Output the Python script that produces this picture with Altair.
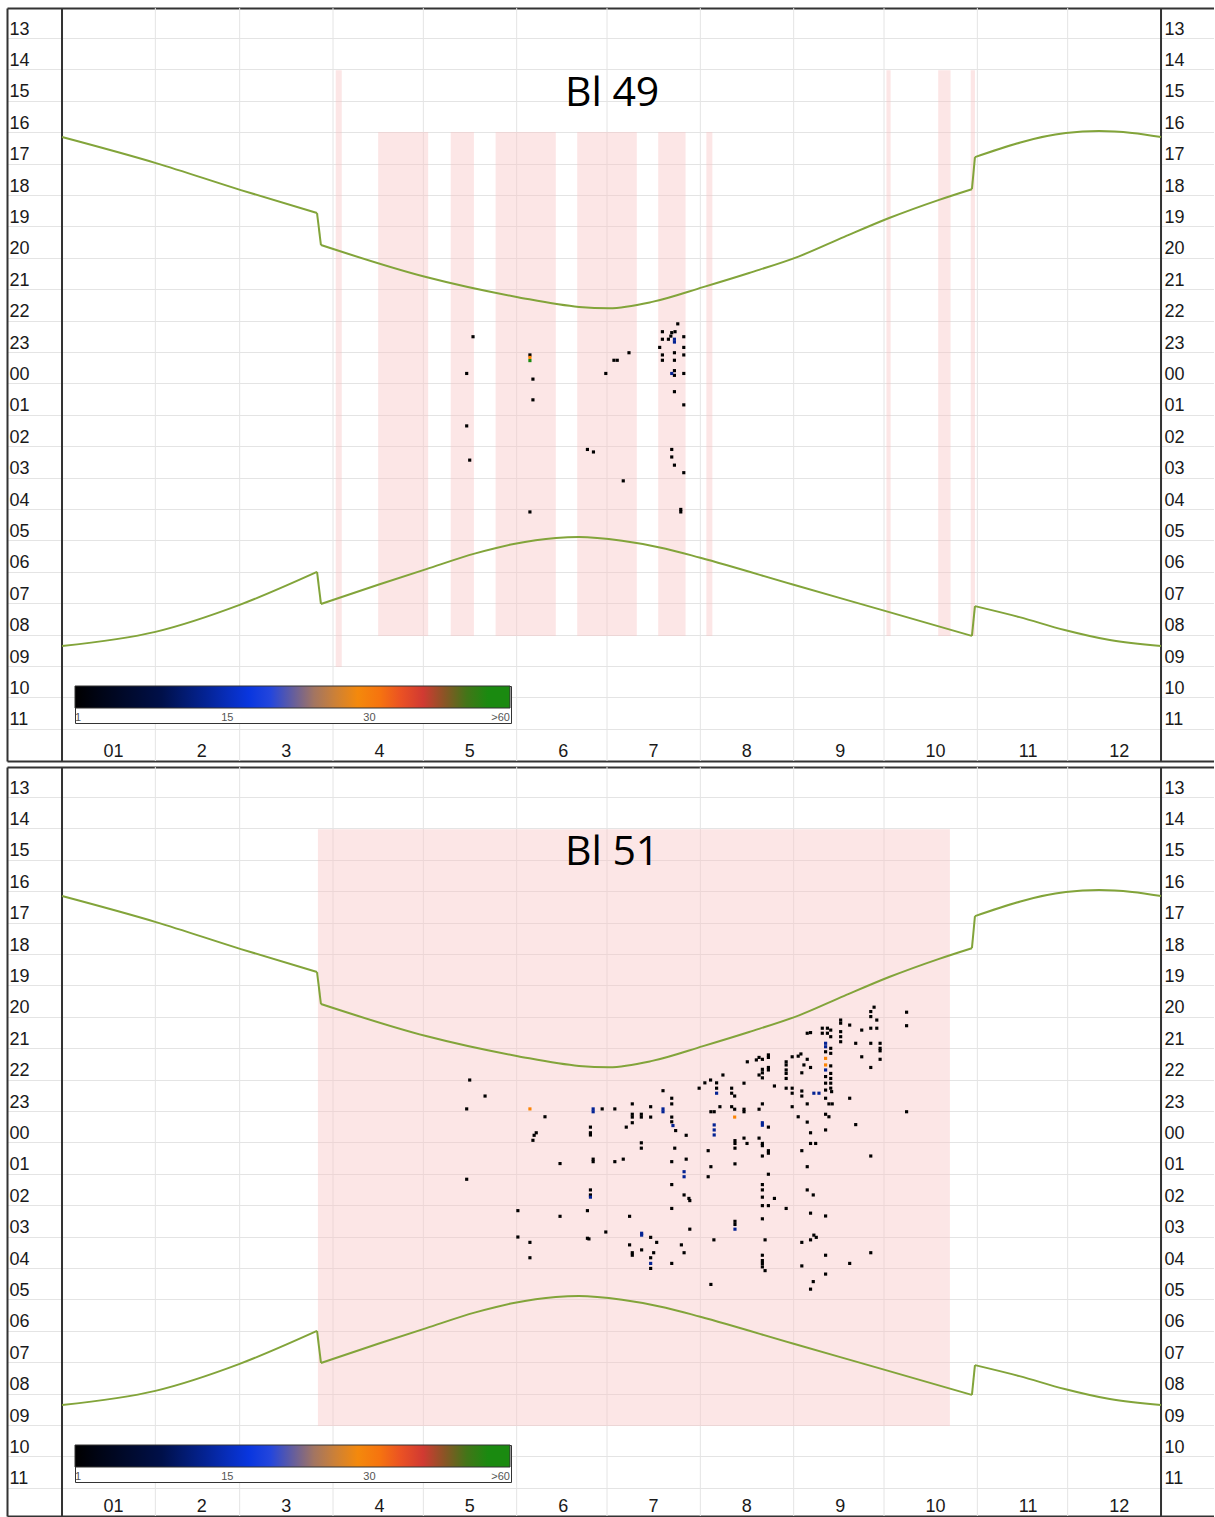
import altair as alt
import pandas as pd

# ---------------- data ----------------
MONTH_LABELS = ['01', '2', '3', '4', '5', '6', '7', '8', '9', '10', '11', '12']
MONTH_STARTS = [0, 31, 59, 90, 120, 151, 181, 212, 243, 273, 304, 334, 365]
HOUR_TICKS = list(range(1, 24))  # hours after noon: 13 ... 11

SUNSET_DAY = [0, 31.2, 59.4, 84.7, 86.0, 120.9, 151.4, 171.7, 181.7, 196.0, 212.9,
              228.2, 244.8, 259.8, 274.7, 291.3, 302.2, 303.2, 333.4, 344.4, 355.4, 365]
SUNSET_HOUR = [16.44, 17.27, 18.13, 18.86, 19.88, 20.90, 21.54, 21.85, 21.89, 21.69, 21.22,
               20.77, 20.24, 19.62, 19.02, 18.44, 18.10, 17.08, 16.31, 16.25, 16.31, 16.44]
SUNRISE_DAY = [0, 31, 59, 84.7, 86.0, 105, 121, 137.3, 150, 164, 171.7, 186, 200.5, 212,
               243, 273.3, 302.2, 303.2, 318, 333, 348, 365]
SUNRISE_HOUR = [8.65, 8.20, 7.34, 6.29, 7.31, 6.70, 6.20, 5.70, 5.40, 5.21, 5.18, 5.30, 5.55, 5.84,
                6.70, 7.53, 8.33, 7.38, 7.73, 8.14, 8.46, 8.65]

# recording periods: (start day, end day, start clock hour, end clock hour)
P1_RECTS = [(90.9, 92.9, 14.31, 9.32), (105.0, 121.6, 16.28, 8.33), (129.1, 136.8, 16.28, 8.33),
            (144.0, 164.0, 16.28, 8.33), (171.1, 190.9, 16.28, 8.33), (198.0, 207.1, 16.28, 8.33),
            (214.0, 216.0, 16.28, 8.33), (273.8, 275.2, 14.31, 8.33), (291.0, 295.1, 14.31, 8.33),
            (301.8, 303.2, 14.31, 8.33)]
P2_RECTS = [(85.0, 294.9, 14.31, 9.32)]

# detections (day of year, clock hour)
P1_BLACK = [(136.5, 22.80), (134.4, 23.97), (134.4, 1.64), (135.4, 2.73), (155.4, 23.38),
            (156.4, 0.15), (156.4, 0.81), (155.4, 4.38), (174.5, 2.39), (176.5, 2.47),
            (180.6, 23.97), (183.3, 23.55), (184.4, 23.55), (188.3, 23.31), (186.4, 3.39),
            (204.5, 22.39), (199.4, 22.64), (202.5, 22.67), (203.6, 22.64), (202.2, 22.78),
            (199.4, 22.88), (201.4, 22.88), (206.5, 22.80), (198.5, 23.14), (206.5, 23.14),
            (199.4, 23.38), (203.4, 23.31), (206.5, 23.38), (199.4, 23.55), (203.4, 23.55),
            (203.4, 0.03), (203.4, 23.88), (206.5, 23.97), (203.4, 0.55), (206.5, 0.97),
            (202.5, 2.39), (202.5, 2.63), (203.4, 2.89), (206.5, 3.13), (205.5, 4.30), (205.5, 4.38)]
P1_BLUE = [(203.4, 22.88), (203.4, 22.97), (202.5, 23.97)]
P1_ORANGE = [(155.4, 23.46)]
P1_GREEN = [(155.4, 23.56)]

P2_BLACK = [(135.4, 22.30), (140.5, 22.81), (134.4, 23.22), (134.4, 1.46), (160.4, 23.47),
            (157.5, 23.98), (156.8, 0.06), (156.4, 0.22), (165.4, 0.96), (151.4, 2.46),
            (151.4, 3.30), (155.4, 3.47), (155.4, 3.96), (165.4, 2.64), (174.5, 2.46),
            (174.5, 3.34), (175.0, 3.36), (180.6, 3.14), (179.4, 23.22), (183.6, 23.22),
            (175.5, 23.80), (175.5, 23.98), (175.5, 0.05), (176.4, 0.82), (176.4, 0.90),
            (175.5, 1.80), (175.5, 1.96), (183.6, 0.90), (186.4, 0.82), (189.4, 23.06),
            (189.4, 23.39), (189.4, 23.48), (192.4, 23.39), (192.4, 23.48), (189.4, 23.66),
            (187.4, 23.80), (195.5, 23.15), (195.5, 23.48), (192.4, 0.30), (192.4, 0.47),
            (199.6, 22.64), (202.5, 22.88), (202.5, 23.06), (202.5, 23.48), (202.5, 23.63),
            (203.8, 23.91), (207.3, 0.06), (203.5, 0.47), (202.5, 0.90), (207.3, 0.82),
            (202.5, 1.63), (206.6, 1.96), (208.2, 2.07), (208.5, 2.14), (202.5, 2.39),
            (208.5, 3.05), (188.5, 2.64), (195.5, 3.31), (197.5, 3.47), (188.5, 3.55),
            (189.4, 3.80), (189.4, 3.88), (192.5, 3.71), (195.5, 3.96), (195.5, 4.30),
            (196.5, 3.80), (202.5, 4.14), (205.7, 3.55), (206.6, 3.80), (211.6, 22.56),
            (213.5, 22.39), (215.4, 22.30), (217.4, 22.39), (219.5, 22.14), (217.4, 22.56),
            (215.5, 23.31), (216.6, 23.31), (218.5, 23.15), (214.6, 0.55), (215.5, 1.06),
            (214.6, 1.38), (216.5, 3.39), (215.5, 4.81), (222.4, 22.56), (222.4, 22.72),
            (223.4, 22.81), (222.4, 23.15), (223.4, 23.23), (226.5, 22.40), (226.5, 23.23),
            (226.5, 23.31), (223.5, 0.23), (223.5, 0.32), (223.5, 0.47), (226.5, 0.15),
            (227.5, 0.32), (223.5, 0.97), (223.5, 2.80), (223.5, 2.90), (227.6, 21.72),
            (230.6, 21.66), (231.5, 21.58), (232.6, 21.64), (234.6, 21.50), (234.6, 21.58),
            (232.6, 21.96), (232.6, 22.07), (234.6, 21.90), (234.6, 21.98), (231.5, 22.14),
            (232.6, 22.23), (236.6, 22.49), (232.6, 23.06), (231.5, 23.23), (234.6, 23.80),
            (231.5, 0.15), (232.6, 0.32), (232.6, 0.39), (232.6, 0.72), (234.6, 0.55),
            (234.6, 0.63), (234.6, 1.30), (232.6, 1.63), (232.6, 1.80), (232.6, 2.03),
            (232.6, 2.30), (234.6, 2.30), (236.6, 2.07), (232.6, 2.72), (233.5, 3.39),
            (232.6, 3.88), (232.6, 4.05), (232.6, 4.14), (232.6, 4.25), (233.5, 4.37),
            (240.5, 2.39), (240.5, 21.72), (240.5, 21.82), (240.5, 21.98), (240.5, 22.09),
            (240.5, 22.25), (242.5, 21.56), (244.5, 21.54), (245.4, 21.47), (245.7, 22.07),
            (242.5, 22.56), (242.5, 22.72), (240.5, 22.56), (245.7, 22.65), (245.7, 22.81),
            (242.5, 23.15), (244.5, 23.47), (247.5, 21.64), (248.6, 21.90), (246.4, 21.82),
            (247.5, 23.06), (247.5, 23.64), (248.6, 23.98), (248.6, 0.32), (250.3, 0.32),
            (245.7, 0.55), (247.5, 1.06), (247.5, 1.80), (249.5, 1.96), (248.6, 2.54),
            (249.7, 3.24), (250.5, 3.31), (248.6, 3.39), (245.7, 3.47), (245.7, 4.22),
            (249.5, 4.72), (248.6, 4.96), (253.6, 3.88), (253.6, 4.48), (253.6, 2.63),
            (247.5, 20.81), (248.6, 20.79), (252.5, 20.65), (254.2, 20.65), (255.3, 20.71),
            (252.5, 20.81), (254.2, 20.81), (255.3, 20.92), (255.3, 21.29), (253.6, 21.40),
            (255.3, 21.45), (255.3, 21.85), (255.3, 22.09), (253.6, 22.19), (255.3, 22.25),
            (253.6, 22.40), (255.3, 22.40), (253.6, 22.62), (255.3, 22.56), (255.6, 22.67),
            (253.6, 22.88), (254.7, 23.06), (255.8, 23.06), (253.6, 23.39), (254.7, 23.47),
            (253.6, 23.89), (258.6, 20.39), (258.6, 20.49), (258.6, 20.76), (258.6, 20.92),
            (258.6, 21.08), (261.6, 20.55), (263.6, 21.13), (265.6, 20.71), (265.6, 21.56),
            (268.6, 20.12), (268.6, 20.28), (269.7, 19.98), (270.6, 20.39), (268.6, 20.65),
            (270.6, 20.65), (268.6, 21.13), (271.7, 21.13), (271.7, 21.29), (271.7, 21.37),
            (271.7, 21.64), (268.6, 21.90), (261.6, 22.88), (263.6, 23.72), (268.6, 0.72),
            (268.6, 3.80), (261.6, 4.14), (280.5, 20.14), (280.5, 20.57), (280.5, 23.31)]
P2_BLUE = [(176.4, 23.22), (176.4, 23.31), (175.5, 2.03), (199.6, 23.22), (199.6, 23.31),
           (202.9, 23.75), (206.6, 1.22), (206.6, 1.38), (192.5, 3.18), (192.5, 3.24),
           (195.5, 4.14), (217.4, 22.72), (216.6, 23.73), (216.6, 23.89), (216.6, 0.05),
           (223.5, 3.05), (232.6, 23.66), (232.6, 23.74), (253.6, 21.13), (253.6, 21.24),
           (253.6, 21.98), (249.7, 22.72), (251.4, 22.72)]
P2_ORANGE = [(155.4, 23.22), (223.4, 23.48), (253.6, 21.61), (253.6, 21.82)]

COUNT_BLACK, COUNT_BLUE, COUNT_ORANGE, COUNT_GREEN = 1, 13, 30, 65

TITLES = ['Bl 49', 'Bl 51']
TITLE_DAY, TITLE_HOUR = 182.7, 15.0

LEGEND_POS = [0, 0.35, 0.677, 1]
LEGEND_TXT = ['1', '15', '30', '>60']

# ---------------- layout constants ----------------
PX_PER_H = 31.4
T_TOP = 0.331
W = 1207
X_DOM = [-18.27, -18.27 + W / 3.011]
GRID = '#e4e4e4'
DARK = '#333333'
FONT = 'Liberation Sans'

month_label_expr = "[{}][indexof([{}], datum.value)]".format(
    ",".join("'%s'" % m for m in MONTH_LABELS), ",".join(str(c) for c in MONTH_STARTS[:-1]))
hour_label_expr = ("((datum.value + 12) % 24) < 10 ? '0' + ((datum.value + 12) % 24) : "
                   "'' + ((datum.value + 12) % 24)")
legend_label_expr = "[{}][indexof([{}], datum.value)]".format(
    ",".join("'%s'" % t for t in LEGEND_TXT), ",".join(str(p) for p in LEGEND_POS))


def split_segments(name, days, hours):
    """Split a curve into smooth pieces and the straight DST jumps between them."""
    rows = []
    seg = 0
    for i in range(len(days)):
        rows.append({'day': days[i], 'hour': hours[i], 'series': f'{name}-{seg}'})
        if i + 1 < len(days) and days[i + 1] - days[i] < 2:
            seg += 1
            rows.append({'day': days[i], 'hour': hours[i], 'series': f'{name}-{seg}'})
            rows.append({'day': days[i + 1], 'hour': hours[i + 1], 'series': f'{name}-{seg}'})
            seg += 1
    return rows


curves = pd.DataFrame(split_segments('sunset', SUNSET_DAY, SUNSET_HOUR)
                      + split_segments('sunrise', SUNRISE_DAY, SUNRISE_HOUR))

grid_days = pd.DataFrame({'d': MONTH_STARTS[1:-1]})
edge_days = pd.DataFrame({'d': [MONTH_STARTS[0], MONTH_STARTS[-1]]})


def dots_frame(groups):
    rows = []
    for pts, cnt in groups:
        for d, h in pts:
            rows.append({'day': d, 'hour': h, 'count': cnt})
    return pd.DataFrame(rows)


def rect_frame(rects):
    return pd.DataFrame(rects, columns=['d0', 'd1', 'h0', 'h1'])


def panel(title, dots, rects, height):
    xs = alt.Scale(domain=X_DOM, nice=False, zero=False)
    ys = alt.Scale(domain=[T_TOP, T_TOP + height / PX_PER_H], nice=False, zero=False, reverse=True)

    x_bottom = alt.Axis(orient='bottom', values=MONTH_STARTS[:-1], labelExpr=month_label_expr,
                        grid=False, ticks=False, domain=True, domainColor=DARK, domainWidth=2,
                        labelPadding=-10, labelBaseline='middle', labelAlign='left',
                        labelOffset=41, labelFontSize=18,
                        labelFont=FONT, labelColor='#1a1a1a', labelOverlap=False,
                        labelFlush=False, title=None)
    y_left = alt.Axis(orient='left', values=HOUR_TICKS, labelExpr=hour_label_expr,
                      grid=True, gridColor=GRID, gridWidth=1, ticks=False,
                      tickOffset=9, labelOffset=-9,
                      domain=True, domainColor=DARK, domainWidth=2,
                      labelAlign='left', labelBaseline='middle', labelPadding=-2,
                      labelFontSize=18, labelFont=FONT, labelColor='#1a1a1a',
                      labelOverlap=False, labelFlush=False, title=None)
    x_top = alt.Axis(orient='top', labels=False, ticks=False, grid=False, domain=True,
                     domainColor=DARK, domainWidth=2, title=None)
    y_right = alt.Axis(orient='right', values=HOUR_TICKS, labelExpr=hour_label_expr,
                       grid=False, ticks=False, domain=False,
                       labelAlign='left', labelBaseline='middle', labelPadding=-50,
                       labelFontSize=18, labelFont=FONT, labelColor='#1a1a1a',
                       labelOverlap=False, labelFlush=False, title=None)

    vgrid = alt.Chart(grid_days).mark_rule(color=GRID, strokeWidth=1).encode(
        x=alt.X('d:Q', scale=xs, axis=None))

    rect_layer = alt.Chart(rect_frame(rects)).transform_calculate(
        t0='(datum.h0 + 12) % 24', t1='(datum.h1 + 12) % 24'
    ).mark_rect(color='#f7c4c4', opacity=0.42).encode(
        x=alt.X('d0:Q', scale=xs, axis=x_bottom),
        x2='d1:Q',
        y=alt.Y('t0:Q', scale=ys, axis=y_left),
        y2='t1:Q',
    )

    edges = alt.Chart(edge_days).mark_rule(color=DARK, strokeWidth=2).encode(
        x=alt.X('d:Q', scale=xs, axis=None))

    lines = alt.Chart(curves).transform_calculate(
        t='(datum.hour + 12) % 24'
    ).mark_line(color='#82a43a', strokeWidth=2, interpolate='monotone').encode(
        x=alt.X('day:Q', scale=xs, axis=x_top),
        y=alt.Y('t:Q', scale=ys, axis=y_right),
        detail='series:N',
        order='day:Q',
    )

    pts = alt.Chart(dots).transform_calculate(
        t='(datum.hour + 12) % 24',
        p='datum.count <= 15 ? (datum.count - 1) / 14 * 0.35 : '
          '(datum.count <= 30 ? 0.35 + (datum.count - 15) / 15 * 0.327 : '
          'min(1, 0.677 + (datum.count - 30) / 30 * 0.323))'
    ).mark_square(size=10, opacity=1).encode(
        x=alt.X('day:Q', scale=xs, axis=None),
        y=alt.Y('t:Q', scale=ys, axis=None),
        color=alt.Color('p:Q',
                        scale=alt.Scale(domain=[0, 0.2, 0.43, 0.56, 0.665, 0.79, 0.86, 0.93, 1.0],
                                        range=['#000000', '#00104a', '#0a3cf5', '#b07a55',
                                               '#ff8c00', '#e03535', '#7a5a22', '#1a8a10',
                                               '#1a8a10'],
                                        interpolate='rgb'),
                        legend=alt.Legend(orient='none', legendX=68, legendY=678,
                                          direction='horizontal', title=None,
                                          gradientLength=435, gradientThickness=22,
                                          values=LEGEND_POS, labelExpr=legend_label_expr,
                                          labelFontSize=11, labelColor='#555555', labelFont=FONT,
                                          labelOffset=4, strokeColor=DARK, fillColor='white',
                                          padding=0, gradientStrokeColor=DARK,
                                          gradientStrokeWidth=1)),
    )

    title_layer = alt.Chart(pd.DataFrame({'day': [TITLE_DAY], 'hour': [TITLE_HOUR],
                                          'label': [title]})).transform_calculate(
        t='(datum.hour + 12) % 24'
    ).mark_text(font='Open Sans', fontSize=41, color='#000000', align='center',
                baseline='middle', dy=2).encode(
        x=alt.X('day:Q', scale=xs, axis=None),
        y=alt.Y('t:Q', scale=ys, axis=None),
        text='label:N',
    )

    return alt.layer(vgrid, rect_layer, edges, lines, pts, title_layer).resolve_axis(
        x='independent', y='independent').properties(width=W, height=height)


p1_dots = dots_frame([(P1_BLACK, COUNT_BLACK), (P1_BLUE, COUNT_BLUE),
                      (P1_ORANGE, COUNT_ORANGE), (P1_GREEN, COUNT_GREEN)])
p2_dots = dots_frame([(P2_BLACK, COUNT_BLACK), (P2_BLUE, COUNT_BLUE), (P2_ORANGE, COUNT_ORANGE)])

chart = alt.vconcat(
    panel(TITLES[0], p1_dots, P1_RECTS, 753),
    panel(TITLES[1], p2_dots, P2_RECTS, 749),
    spacing=4,
).resolve_scale(color='independent').properties(
    padding={'left': 7, 'top': 7, 'right': 0, 'bottom': 0},
    background='white',
).configure_view(stroke=None)

chart.save("out.html", embed_options={"renderer": "svg", "actions": False})
